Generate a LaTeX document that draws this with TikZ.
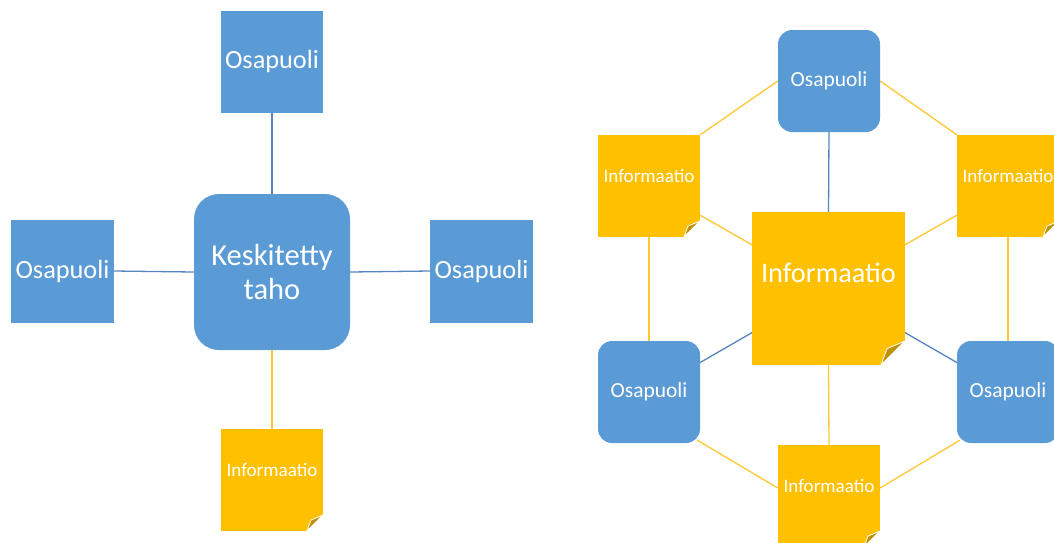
\documentclass[tikz,border=0pt]{standalone}
\usepackage{fontspec}
\setmainfont{Carlito}
\usetikzlibrary{backgrounds,calc}
\definecolor{obl}{HTML}{5B9BD5}
\definecolor{ogo}{HTML}{FFC000}
\definecolor{lbl}{HTML}{5585BE}
\definecolor{lgo}{HTML}{FFC832}
\definecolor{foldc}{HTML}{BF9000}
\newcommand{\foldpic}[1]{%
  \fill[white] ([xshift=-#1]path picture bounding box.south east) -- (path picture bounding box.south east) -- ([yshift=#1]path picture bounding box.south east) -- cycle;
  \filldraw[fill=foldc, draw=white, line width=0.8pt, line join=round]
    ([xshift=-#1]path picture bounding box.south east) --
    ([yshift=#1]path picture bounding box.south east) --
    ([xshift=-0.75*#1,yshift=0.68*#1]path picture bounding box.south east) -- cycle;}
\tikzset{
  party/.style={fill=obl, text=white, inner sep=0pt, align=center, minimum width=#1, minimum height=#1},
  rparty/.style={party=#1, rounded corners=14pt},
  info/.style={fill=ogo, text=white, inner sep=0pt, align=center, minimum width=#1, minimum height=#1},
  smallnote/.style={info=102pt, text depth=20pt, path picture={\foldpic{16pt}}},
  bignote/.style={info=153pt, text depth=32pt, path picture={\foldpic{24pt}}},
  bline/.style={draw=lbl, line width=1.3pt},
  yline/.style={draw=lgo, line width=1.3pt},
  fbig/.style={font=\fontsize{26.3}{31}\selectfont},
  fkes/.style={font=\fontsize{30.5}{34}\selectfont},
  fmid/.style={font=\fontsize{21.5}{25}\selectfont},
  fsm/.style={font=\fontsize{19.1}{22}\selectfont},
  fcen/.style={font=\fontsize{28.3}{33}\selectfont},
}
\begin{document}
\begin{tikzpicture}[x=1pt,y=-1pt]
\useasboundingbox (0,0) rectangle (1054,542);
% left diagram
\node[party=102pt, fbig] (lt) at (272,61.5) {Osapuoli};
\node[party=103pt, fbig] (ll) at (62.5,271) {Osapuoli};
\node[party=103pt, fbig] (lr) at (481.5,271) {Osapuoli};
\node[party=156pt, rounded corners=25pt, fkes] (lc) at (272,272) {Keskitetty\\taho};
\node[smallnote, fsm] (lb) at (272,480) {Informaatio};
% right diagram
\node[rparty=102pt, fmid] (rt) at (829,81) {Osapuoli};
\node[smallnote, fsm] (rli) at (649,186) {Informaatio};
\node[smallnote, fsm] (rri) at (1008,186) {Informaatio};
\node[bignote, fcen] (rc) at (828.5,288.5) {Informaatio};
\node[rparty=102pt, fmid] (rbl) at (649,392) {Osapuoli};
\node[rparty=102pt, fmid] (rbr) at (1008,392) {Osapuoli};
\node[smallnote, fsm] (rbi) at (829,496) {Informaatio};
\begin{pgfonlayer}{background}
\draw[bline] (lt.south) -- (lc.north);
\draw[bline] (ll.east) -- (lc.west);
\draw[bline] (lc.east) -- (lr.west);
\draw[yline] (lc.south) -- (lb.north);
\draw[yline] (rt.west) -- (rli.north east);
\draw[yline] (rt.east) -- (rri.north west);
\draw[bline] (rt.south) -- (rc.north);
\draw[yline] (rli.center) -- (rc.center);
\draw[yline] (rri.center) -- (rc.center);
\draw[yline] (rli.south) -- (rbl.north);
\draw[yline] (rri.south) -- (rbr.north);
\draw[bline] (rbl.center) -- (rc.center);
\draw[bline] (rbr.center) -- (rc.center);
\draw[yline] ([shift={(-3pt,3pt)}]rbl.south east) -- ([yshift=8pt]rbi.west);
\draw[yline] ([shift={(3pt,3pt)}]rbr.south west) -- ([yshift=8pt]rbi.east);
\draw[yline] (rc.south) -- (rbi.north);
\end{pgfonlayer}
\end{tikzpicture}
\end{document}
